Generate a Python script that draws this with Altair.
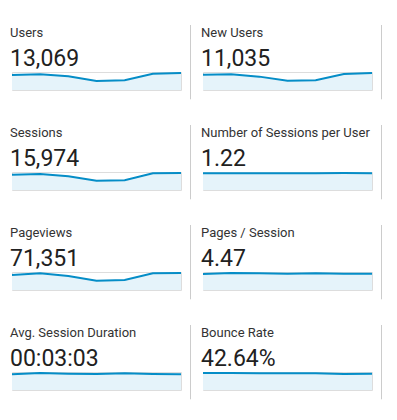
import altair as alt
import pandas as pd

days = [1, 2, 3, 4, 5, 6, 7]

titles = ["Users", "New Users", "Sessions", "Number of Sessions per User",
          "Pageviews", "Pages / Session", "Avg. Session Duration", "Bounce Rate"]
totals = ["13,069", "11,035", "15,974", "1.22", "71,351", "4.47", "00:03:03", "42.64%"]

users = [2050, 2140, 1860, 1230, 1320, 2220, 2310]
new_users = [1730, 1780, 1510, 1050, 1100, 1810, 1920]
sessions = [2490, 2610, 2230, 1520, 1580, 2720, 2770]
sessions_per_user = [1.22, 1.22, 1.22, 1.21, 1.21, 1.23, 1.22]
pageviews = [10800, 12000, 10100, 6700, 7200, 12000, 12200]
pages_per_session = [4.30, 4.58, 4.50, 4.40, 4.50, 4.40, 4.40]
avg_duration_sec = [180, 195, 187, 184, 191, 184, 180]
bounce_rate = [43.5, 43.5, 42.7, 42.7, 42.7, 41.0, 41.8]

series = [users, new_users, sessions, sessions_per_user,
          pageviews, pages_per_session, avg_duration_sec, bounce_rate]

LINE = "#058dc7"
FILL = "#e5f3fa"
DIV = "#cccccc"
W, H = 169, 18
RULE_TOP = -47


def panel(title, total, values):
    df = pd.DataFrame({"day": days, "v": values})
    ymax = max(values) * 18 / 17
    base = alt.Chart(df).encode(
        x=alt.X("day:Q", axis=None, scale=alt.Scale(domain=[1, 7], nice=False, zero=False)),
        y=alt.Y("v:Q", axis=None, scale=alt.Scale(domain=[0, ymax], nice=False)),
    )
    area = base.mark_area(color=FILL, opacity=1)
    line = base.mark_line(color=LINE, strokeWidth=2)
    div = alt.Chart(pd.DataFrame({"d": [0]})).mark_rule(color=DIV, strokeWidth=1).encode(
        x=alt.value(W + 9.5), y=alt.value(RULE_TOP), y2=alt.value(27.3)
    )
    return alt.layer(area, line, div).properties(
        width=W, height=H,
        title=alt.TitleParams(
            title, subtitle=total, anchor="start", frame="group", dy=-RULE_TOP, dx=-2,
            font="Roboto", fontSize=13, fontWeight="normal", color="#333333",
            subtitleFont="Roboto", subtitleFontSize=23, subtitleFontWeight="normal",
            subtitleColor="#212121", subtitlePadding=8, offset=1,
        ),
    )


panels = [panel(t, s, v) for t, s, v in zip(titles, totals, series)]
rows = [alt.hconcat(panels[i], panels[i + 1], spacing=22, bounds="flush") for i in range(0, 8, 2)]
chart = alt.vconcat(*rows, spacing=100, bounds="flush").properties(
    padding={"left": -1, "top": 16, "right": 5, "bottom": 5}
).configure_view(stroke=None).configure(background="white")

chart.save("out.html", embed_options={"renderer": "svg", "actions": False})
